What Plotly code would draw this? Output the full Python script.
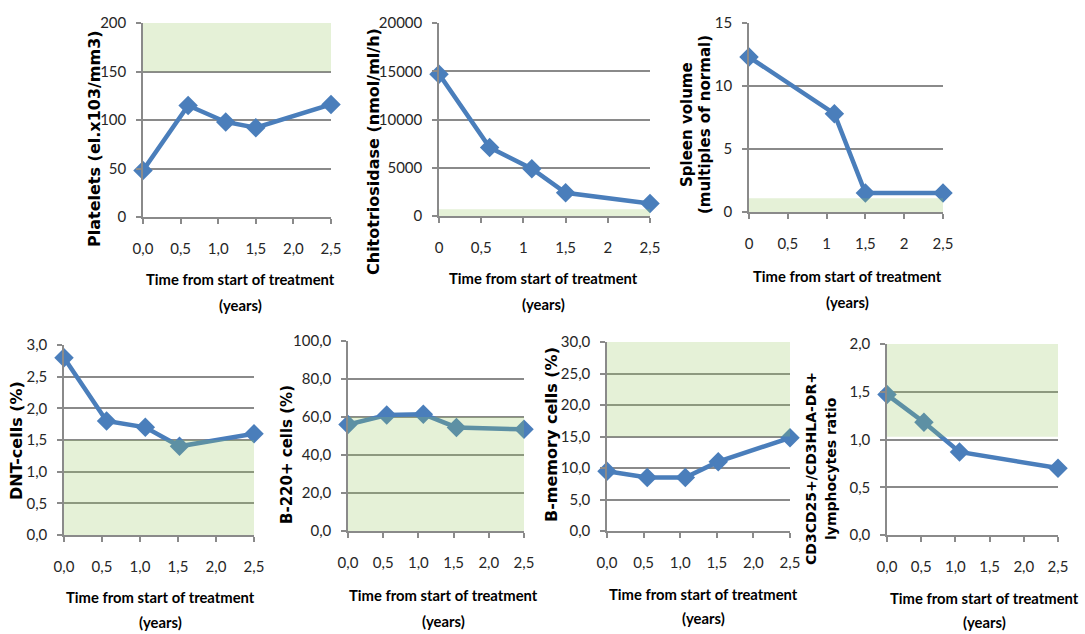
import plotly.graph_objects as go

W, H = 1085, 634

# ---------------- data ----------------
platelets_t = [0.0, 0.6, 1.1, 1.5, 2.5]
platelets_v = [48, 115, 98, 92, 116]

chito_t = [0.0, 0.6, 1.1, 1.5, 2.5]
chito_v = [14700, 7100, 4900, 2400, 1300]

spleen_t = [0.0, 1.1, 1.5, 2.5]
spleen_v = [12.3, 7.8, 1.5, 1.5]

dnt_t = [0.0, 0.56, 1.07, 1.52, 2.5]
dnt_v = [2.8, 1.8, 1.7, 1.4, 1.6]

b220_t = [0.0, 0.55, 1.07, 1.54, 2.5]
b220_v = [56, 61, 61.5, 54.5, 53.5]

bmem_t = [0.0, 0.55, 1.07, 1.52, 2.5]
bmem_v = [9.5, 8.5, 8.5, 11, 14.8]

cd3_t = [0.0, 0.54, 1.06, 2.5]
cd3_v = [1.47, 1.18, 0.87, 0.70]

# normal ranges (shaded bands)
platelets_norm = [150, 200]
chito_norm = [0, 700]
spleen_norm = [0, 1.1]
dnt_norm = [0, 1.5]
b220_norm = [0, 60]
bmem_norm = [15, 30]
cd3_norm = [1.03, 2.0]

# tick labels
x_ticks = [0, 0.5, 1.0, 1.5, 2.0, 2.5]
x_labels_dec = ["0,0", "0,5", "1,0", "1,5", "2,0", "2,5"]
x_labels_int = ["0", "0,5", "1", "1,5", "2", "2,5"]

platelets_yt = [0, 50, 100, 150, 200]
platelets_yl = ["0", "50", "100", "150", "200"]
chito_yt = [0, 5000, 10000, 15000, 20000]
chito_yl = ["0", "5000", "10000", "15000", "20000"]
spleen_yt = [0, 5, 10, 15]
spleen_yl = ["0", "5", "10", "15"]
dnt_yt = [0, 0.5, 1.0, 1.5, 2.0, 2.5, 3.0]
dnt_yl = ["0,0", "0,5", "1,0", "1,5", "2,0", "2,5", "3,0"]
b220_yt = [0, 20, 40, 60, 80, 100]
b220_yl = ["0,0", "20,0", "40,0", "60,0", "80,0", "100,0"]
bmem_yt = [0, 5, 10, 15, 20, 25, 30]
bmem_yl = ["0,0", "5,0", "10,0", "15,0", "20,0", "25,0", "30,0"]
cd3_yt = [0, 0.5, 1.0, 1.5, 2.0]
cd3_yl = ["0,0", "0,5", "1,0", "1,5", "2,0"]

x_title_lines = ["Time from start of treatment", "(years)"]

panels = [
    dict(t=platelets_t, v=platelets_v, norm=platelets_norm, yt=platelets_yt, yl=platelets_yl,
         xl=x_labels_dec, ymax=200, ytitle=["Platelets (el.x103/mm3)"], yts=16,
         box=(143, 331, 23, 217), ytx=[95], yty=139, xtx=240, xty=(279, 305)),
    dict(t=chito_t, v=chito_v, norm=chito_norm, yt=chito_yt, yl=chito_yl,
         xl=x_labels_int, ymax=20000, ytitle=["Chitotriosidase (nmol/ml/h)"], yts=16,
         box=(439, 650, 23, 216), ytx=[373], yty=152, xtx=543, xty=(278, 304)),
    dict(t=spleen_t, v=spleen_v, norm=spleen_norm, yt=spleen_yt, yl=spleen_yl,
         xl=x_labels_int, ymax=15, ytitle=["Spleen volume", "(multiples of normal)"], yts=15,
         box=(749, 943, 23, 212), ytx=[687, 705], yty=125, xtx=847, xty=(276, 302)),
    dict(t=dnt_t, v=dnt_v, norm=dnt_norm, yt=dnt_yt, yl=dnt_yl,
         xl=x_labels_dec, ymax=3, ytitle=["DNT-cells (%)"], yts=16,
         box=(64, 254, 345, 535), ytx=[16], yty=441, xtx=160, xty=(597, 622)),
    dict(t=b220_t, v=b220_v, norm=b220_norm, yt=b220_yt, yl=b220_yl,
         xl=x_labels_dec, ymax=100, ytitle=["B-220+ cells (%)"], yts=15,
         box=(348, 524, 341, 531), ytx=[287], yty=455, xtx=443, xty=(595, 621)),
    dict(t=bmem_t, v=bmem_v, norm=bmem_norm, yt=bmem_yt, yl=bmem_yl,
         xl=x_labels_dec, ymax=30, ytitle=["B-memory cells (%)"], yts=16,
         box=(607, 790, 342, 531), ytx=[552], yty=435, xtx=703, xty=(594, 618)),
    dict(t=cd3_t, v=cd3_v, norm=cd3_norm, yt=cd3_yt, yl=cd3_yl,
         xl=x_labels_dec, ymax=2, ytitle=["CD3CD25+/CD3HLA-DR+", "lymphocytes ratio"], yts=14,
         box=(887, 1058, 344, 535), ytx=[811, 831], yty=469, xtx=984, xty=(598, 622)),
]

TICK_FONT = dict(family="Lato, Roboto, sans-serif", size=15, color="#262626")
XT_FONT = dict(family="Lato, Roboto, sans-serif", size=14.8, color="#000000", weight="bold")

GRID = "#8a8a8a"
BLUE = "#4a7ebb"

fig = go.Figure()
shapes = []
annotations = []
layout = {}

for i, p in enumerate(panels, start=1):
    x0, x1, y0, y1 = p["box"]
    xa = "x" if i == 1 else f"x{i}"
    ya = "y" if i == 1 else f"y{i}"
    fig.add_trace(go.Scatter(
        x=p["t"], y=p["v"], xaxis=xa, yaxis=ya, mode="lines+markers",
        line=dict(color=BLUE, width=4.5),
        marker=dict(symbol="diamond", size=15, color=BLUE),
        cliponaxis=False, showlegend=False, hoverinfo="skip"))
    layout[f"xaxis{'' if i == 1 else i}"] = dict(
        domain=[x0 / W, x1 / W], anchor=ya, range=[0, 2.5], automargin=False,
        tickvals=x_ticks, ticktext=p["xl"], ticks="outside", ticklen=5,
        tickcolor=GRID, tickwidth=1.5, showgrid=False, zeroline=False,
        showline=True, linecolor=GRID, linewidth=1.5,
        tickfont=TICK_FONT, ticklabelstandoff=12, fixedrange=True)
    layout[f"yaxis{'' if i == 1 else i}"] = dict(
        domain=[1 - y1 / H, 1 - y0 / H], anchor=xa, range=[0, p["ymax"]], automargin=False,
        tickvals=p["yt"], ticktext=p["yl"], ticks="outside", ticklen=5,
        tickcolor=GRID, tickwidth=1.5, showgrid=True, gridcolor=GRID, gridwidth=2,
        zeroline=False, showline=True, linecolor=GRID, linewidth=1.5,
        tickfont=TICK_FONT, ticklabelstandoff=7, fixedrange=True)
    shapes.append(dict(
        type="rect", xref=f"{xa} domain", yref=ya, x0=0, x1=1,
        y0=p["norm"][0], y1=p["norm"][1], layer="above",
        fillcolor="rgba(150,200,95,0.25)", line=dict(width=0)))
    yt_font = dict(family="DejaVu Sans, Verdana, sans-serif", size=p["yts"],
                   color="#000000", weight="bold")
    for line, lx in zip(p["ytitle"], p["ytx"]):
        annotations.append(dict(
            text=line, xref="paper", yref="paper",
            x=lx / W, y=1 - p["yty"] / H, textangle=-90,
            showarrow=False, font=yt_font, xanchor="center", yanchor="middle"))
    for line, ly in zip(x_title_lines, p["xty"]):
        annotations.append(dict(
            text=line, xref="paper", yref="paper",
            x=p["xtx"] / W, y=1 - ly / H,
            showarrow=False, font=XT_FONT, xanchor="center", yanchor="middle"))

fig.update_layout(
    width=W, height=H, margin=dict(l=0, r=0, t=0, b=0, autoexpand=False),
    paper_bgcolor="white", plot_bgcolor="white",
    shapes=shapes, annotations=annotations, **layout)

fig.write_html("out.html", config={"displayModeBar": False},
               post_script="document.body.style.margin='0px';")
